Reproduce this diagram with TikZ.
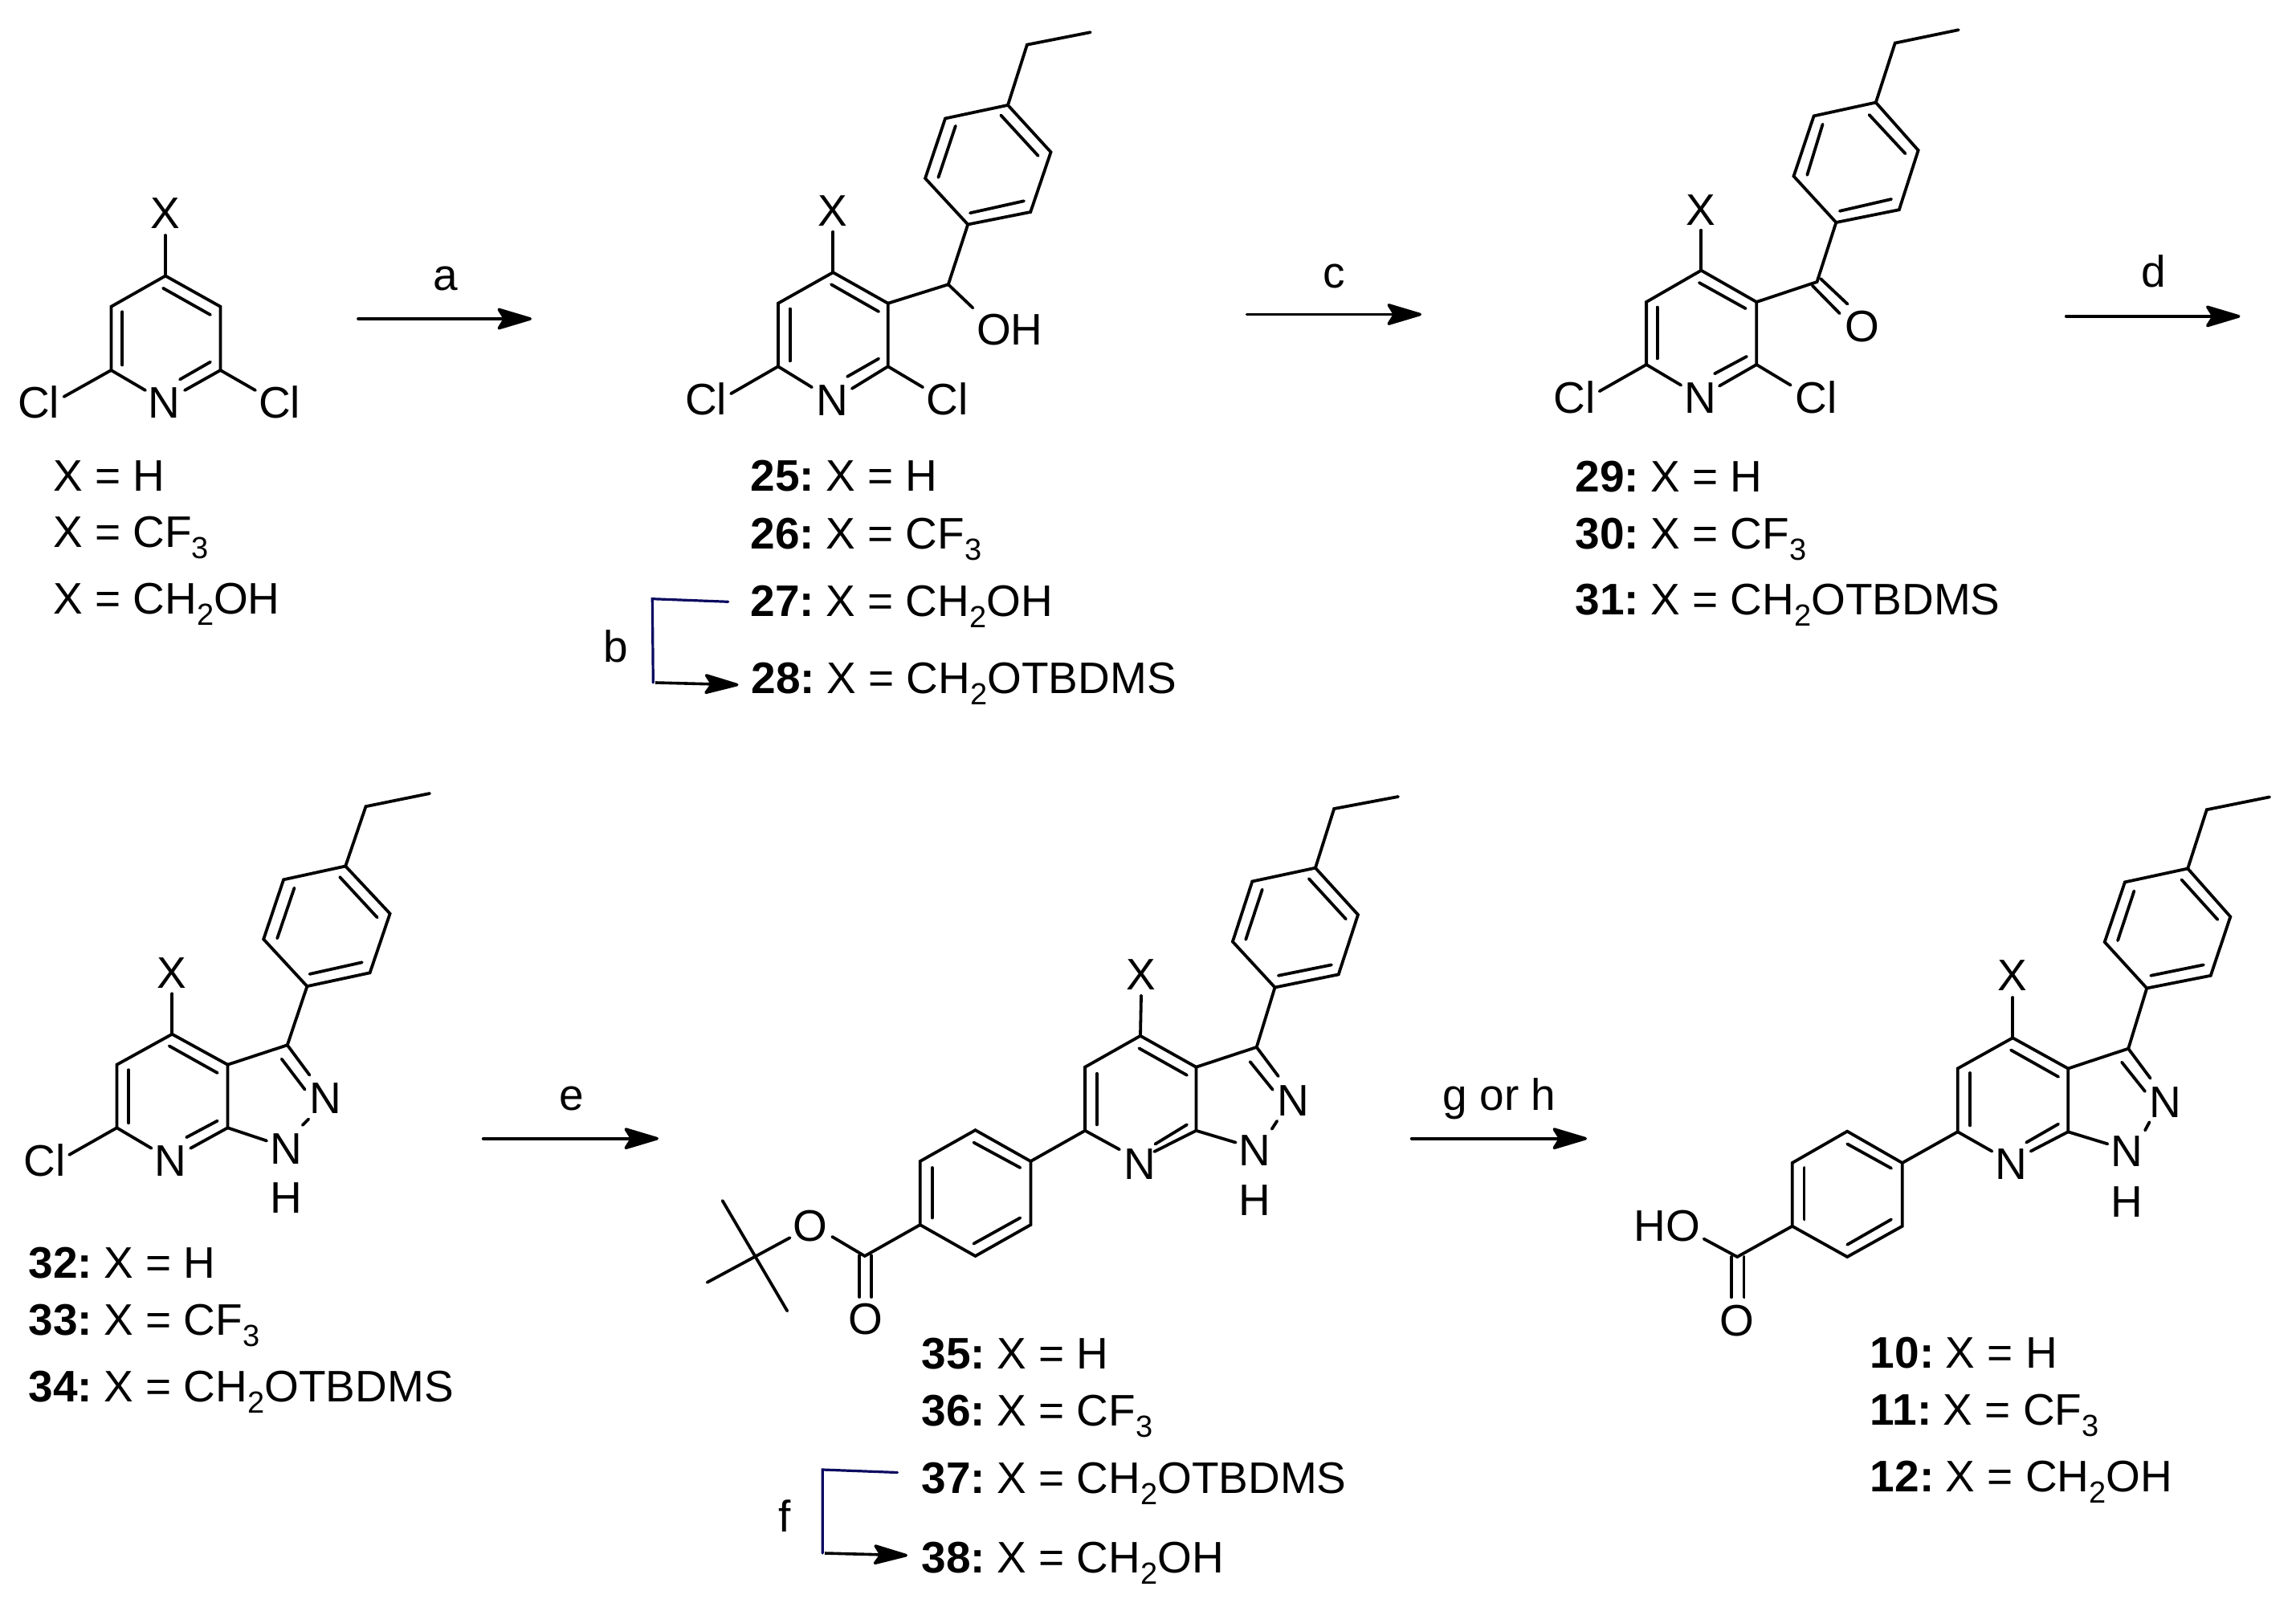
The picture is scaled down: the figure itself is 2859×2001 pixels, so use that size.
\documentclass[tikz,border=0pt]{standalone}
\usepackage{fontspec}
\setmainfont{Liberation Sans}
\usetikzlibrary{arrows.meta}
\definecolor{brk}{HTML}{0A0A60}
\newcommand{\sbs}[1]{\raisebox{-14pt}{\fontsize{38}{38}\selectfont #1}}
\newcommand{\cmpd}[1]{\textbf{#1:}\hspace{-6pt}}
\tikzset{
  bond/.style={line width=3.8pt,line join=miter,line cap=round},
  rxn/.style={line width=3.6pt,line cap=round,-{Stealth[round,length=49pt,width=29pt,inset=9pt]}},
  brack/.style={line width=3.2pt,color=brk,line join=miter,line cap=round},
  brackarrow/.style={line width=3.6pt,-{Stealth[round,length=49pt,width=27pt,inset=9pt]}},
  atom/.style={inner sep=0pt,font=\fontsize{55}{60}\selectfont},
  lab/.style={inner sep=0pt,anchor=base west,font=\fontsize{55}{60}\selectfont},
  cond/.style={inner sep=0pt,anchor=base,font=\fontsize{55}{60}\selectfont},
}
\begin{document}
\begin{tikzpicture}[x=1pt,y=-1pt]
\useasboundingbox (0,0) rectangle (2859,2001);
\fill[white] (0,0) rectangle (2859,2001);

% ---------- starting pyridine
\coordinate (a4) at (206,343.5); \coordinate (a3) at (138.4,381.8); \coordinate (a5) at (274.5,381.8);
\coordinate (a2) at (138.4,461); \coordinate (a6) at (274.5,461);
\node[atom] (aX) at (206,266) {X};
\node[atom] (aN) at (204.5,501.6) {N};
\node[atom] (aCl1) at (48,501) {Cl};
\node[atom] (aCl2) at (348,501) {Cl};
\draw[bond] (206,293) -- (a4);
\draw[bond] (181,486) -- (a2) -- (a3) -- (a4) -- (a5) -- (a6) -- (230,486);
\draw[bond] (79.5,494) -- (a2);
\draw[bond] (a6) -- (318,486);
\draw[bond] (152.2,388.3) -- (152.2,454.5);
\draw[bond] (203,358.8) -- (262,392);
\draw[bond] (262,450.7) -- (224,472.5);
\node[lab] (al1) at (66,611) {X = H};
\node[lab] (al2) at (66,681.4) {X = CF\sbs{3}};
\node[lab] (al3) at (66,764.5) {X = CH\sbs{2}OH};

% arrow a
\coordinate (ra1) at (446,397); \coordinate (ra2) at (662,397);
\draw[rxn] (ra1) -- (ra2);
\node[cond] (ca) at (555,361) {a};

% ---------- 25-28
\coordinate (bE) at (1357.8,40.2); \coordinate (bM) at (1278.9,55.7);
\coordinate (bp1) at (1255,130.9); \coordinate (bp2) at (1308.5,189.4); \coordinate (bp3) at (1283.2,264);
\coordinate (bp4) at (1205.2,279.5); \coordinate (bp5) at (1152.1,222.1); \coordinate (bp6) at (1177,147.5);
\coordinate (bC) at (1180.8,354.2);
\coordinate (b3) at (1105.7,377.7); \coordinate (b4) at (1037.3,339.2); \coordinate (b5) at (968.9,377.7);
\coordinate (b6) at (968.9,456.3); \coordinate (b2) at (1105.7,456.3);
\node[atom] (bX) at (1037.3,262.9) {X};
\node[atom] (bOH) at (1257.3,410.4) {OH};
\node[atom] (bN) at (1036.4,498.2) {N};
\node[atom] (bCl1) at (879,497) {Cl};
\node[atom] (bCl2) at (1179.4,497) {Cl};
\draw[bond] (bE) -- (bM) -- (bp1);
\draw[bond] (bp1) -- (bp2) -- (bp3) -- (bp4) -- (bp5) -- (bp6) -- cycle;
\draw[bond] (1246.3,143.5) -- (1292.7,194);
\draw[bond] (1275,250.3) -- (1208,265.2);
\draw[bond] (1168.4,221) -- (1189.9,156.7);
\draw[bond] (bp4) -- (bC) -- (b3);
\draw[bond] (bC) -- (1211.4,383.4);
\draw[bond] (1037.3,288.7) -- (b4);
\draw[bond] (1011,482.2) -- (b6) -- (b5) -- (b4) -- (b3) -- (b2) -- (1060.8,483.9);
\draw[bond] (910.1,490.2) -- (b6);
\draw[bond] (b2) -- (1149.2,482.2);
\draw[bond] (1035,354.2) -- (1094.2,388);
\draw[bond] (983.8,384.6) -- (983.8,449.4);
\draw[bond] (1094.2,446.6) -- (1055,469);
\node[lab] (bl1) at (934.5,611.3) {\cmpd{25} X = H};
\node[lab] (bl2) at (934.5,683) {\cmpd{26} X = CF\sbs{3}};
\node[lab] (bl3) at (934.5,767.4) {\cmpd{27} X = CH\sbs{2}OH};
\node[lab] (bl4) at (935.5,863.9) {\cmpd{28} X = CH\sbs{2}OTBDMS};
\coordinate (bb1) at (906.7,749.3); \coordinate (bb2) at (812.3,745.7); \coordinate (bb3) at (813.3,850);
\coordinate (bb4) at (816,850); \coordinate (bb5) at (919.5,852.7);
\draw[brack] (bb1) -- (bb2) -- (bb3);
\draw[brackarrow] (bb4) -- (bb5);
\node[cond] (cb) at (767,824) {b};

% arrow c
\coordinate (rc1) at (1552.5,391.5); \coordinate (rc2) at (1770,391.5);
\draw[rxn] (rc1) -- (rc2);
\node[cond] (cc) at (1661.5,358) {c};

% ---------- 29-31
\coordinate (cE) at (2438.8,37.2); \coordinate (cM) at (2359.7,53.6);
\coordinate (cp1) at (2335.8,127.6); \coordinate (cp2) at (2388.6,187.2); \coordinate (cp3) at (2364.8,261.2);
\coordinate (cp4) at (2286.3,277); \coordinate (cp5) at (2233.5,219.4); \coordinate (cp6) at (2258.6,144.4);
\coordinate (cC) at (2262.5,351);
\coordinate (c3) at (2187.2,376); \coordinate (c4) at (2118.3,336.7); \coordinate (c5) at (2050.1,376);
\coordinate (c6) at (2050.1,454); \coordinate (c2) at (2187.2,454);
\node[atom] (cX) at (2118.3,261.2) {X};
\node[atom] (cO) at (2318.5,407) {O};
\node[atom] (cN) at (2117,496) {N};
\node[atom] (cCl1) at (1960.7,495) {Cl};
\node[atom] (cCl2) at (2261.8,495) {Cl};
\draw[bond] (cE) -- (cM) -- (cp1);
\draw[bond] (cp1) -- (cp2) -- (cp3) -- (cp4) -- (cp5) -- (cp6) -- cycle;
\draw[bond] (2327.5,142.9) -- (2372.5,191.3);
\draw[bond] (2355.1,248) -- (2290.8,262.8);
\draw[bond] (2250.3,217.9) -- (2269.6,154.6);
\draw[bond] (cp4) -- (cC) -- (c3);
\draw[bond] (2267,347) -- (2300.5,378.6);
\draw[bond] (2256.7,355.6) -- (2290.8,390.3);
\draw[bond] (2118.3,286.7) -- (c4);
\draw[bond] (2093.2,479.6) -- (c6) -- (c5) -- (c4) -- (c3) -- (c2) -- (2140.9,480.6);
\draw[bond] (1991.6,487.2) -- (c6);
\draw[bond] (c2) -- (2229.7,479.6);
\draw[bond] (2115.8,352) -- (2173.7,384.2);
\draw[bond] (2063.6,382.6) -- (2063.6,446.4);
\draw[bond] (2175,443.9) -- (2135,465.3);
\node[lab] (cl1) at (1961.3,612.2) {\cmpd{29} X = H};
\node[lab] (cl2) at (1961.3,683.7) {\cmpd{30} X = CF\sbs{3}};
\node[lab] (cl3) at (1961.3,765.3) {\cmpd{31} X = CH\sbs{2}OTBDMS};

% arrow d
\coordinate (rd1) at (2572.7,393.9); \coordinate (rd2) at (2789.5,393.9);
\draw[rxn] (rd1) -- (rd2);
\node[cond] (cd) at (2681.4,357) {d};

% ---------- 32-34
\coordinate (dE) at (535,988); \coordinate (dM) at (455.5,1004.2);
\coordinate (dp1) at (430.2,1078.5); \coordinate (dp2) at (485.6,1137.6); \coordinate (dp3) at (460.6,1211.3);
\coordinate (dp4) at (382.4,1228.1); \coordinate (dp5) at (328.2,1169.5); \coordinate (dp6) at (353.1,1095.3);
\coordinate (d3) at (357.8,1301.3); \coordinate (d3a) at (283.5,1325.7); \coordinate (d4) at (214.3,1287.7);
\coordinate (d5) at (145.5,1325.7); \coordinate (d6) at (145.5,1404.3); \coordinate (d7a) at (283.5,1404.3);
\node[atom] (dX) at (214.3,1211.8) {X};
\node[atom] (dN2) at (405.3,1367.4) {N};
\node[atom] (dN1) at (356.7,1430.8) {N};
\node[atom] (dH) at (356.7,1492) {H};
\node[atom] (dN) at (212.7,1446) {N};
\node[atom] (dCl) at (55.4,1444.4) {Cl};
\draw[bond] (dE) -- (dM) -- (dp1);
\draw[bond] (dp1) -- (dp2) -- (dp3) -- (dp4) -- (dp5) -- (dp6) -- cycle;
\draw[bond] (423.1,1092) -- (469.7,1142.4);
\draw[bond] (450.8,1198.3) -- (385.5,1212.9);
\draw[bond] (345.2,1168.5) -- (366.5,1105.6);
\draw[bond] (dp4) -- (d3);
\draw[bond] (214.3,1237.3) -- (d4);
\draw[bond] (188.6,1429.8) -- (d6) -- (d5) -- (d4) -- (d3a) -- (d7a) -- (237.2,1429.8);
\draw[bond] (d3a) -- (d3) -- (385.5,1338.7);
\draw[bond] (350.7,1318.6) -- (379.6,1356.6);
\draw[bond] (d7a) -- (332.1,1420.5);
\draw[bond] (376.8,1401) -- (384.3,1393.4);
\draw[bond] (86.2,1437.9) -- (d6);
\draw[bond] (210.7,1302.4) -- (270.8,1336);
\draw[bond] (160.1,1332.2) -- (160.1,1398.3);
\draw[bond] (270.8,1395.6) -- (232.1,1416.2);
\node[lab] (dl1) at (35.6,1591.3) {\cmpd{32} X = H};
\node[lab] (dl2) at (35.6,1662.9) {\cmpd{33} X = CF\sbs{3}};
\node[lab] (dl3) at (35.6,1745.8) {\cmpd{34} X = CH\sbs{2}OTBDMS};

% arrow e
\coordinate (re1) at (601.7,1417.7); \coordinate (re2) at (820,1417.7);
\draw[rxn] (re1) -- (re2);
\node[cond] (ce) at (711.5,1382) {e};

% ---------- 35-38
\coordinate (eE) at (1741,992); \coordinate (eM) at (1661.2,1007);
\coordinate (ep1) at (1637.9,1080.7); \coordinate (ep2) at (1691,1139); \coordinate (ep3) at (1666.7,1213.4);
\coordinate (ep4) at (1587.5,1229.5); \coordinate (ep5) at (1534.9,1172.5); \coordinate (ep6) at (1559.3,1097.5);
\coordinate (e3) at (1564.7,1303.9); \coordinate (e3a) at (1489.4,1328.7); \coordinate (e4) at (1420,1289.8);
\coordinate (e5) at (1351.1,1328.7); \coordinate (e6) at (1351.1,1407.8); \coordinate (e7a) at (1489.4,1407.8);
\coordinate (eq1) at (1283.4,1446); \coordinate (eq2) at (1214.5,1407.2); \coordinate (eq3) at (1145.7,1446);
\coordinate (eq4) at (1145.7,1525.1); \coordinate (eq5) at (1214.5,1564); \coordinate (eq6) at (1283.4,1525.1);
\coordinate (eC) at (1076.8,1564); \coordinate (eT) at (940.2,1564.7);
\coordinate (eT1) at (899.6,1495); \coordinate (eT2) at (880.6,1596.8); \coordinate (eT3) at (980.3,1632.4);
\node[atom] (eX) at (1421,1213.4) {X};
\node[atom] (eN2) at (1610.8,1371) {N};
\node[atom] (eN1) at (1562,1432.6) {N};
\node[atom] (eH) at (1562,1495) {H};
\node[atom] (eN) at (1419.5,1449.4) {N};
\node[atom] (eO1) at (1009,1526.5) {O};
\node[atom] (eO2) at (1077.4,1642.4) {O};
\draw[bond] (eE) -- (eM) -- (ep1);
\draw[bond] (ep1) -- (ep2) -- (ep3) -- (ep4) -- (ep5) -- (ep6) -- cycle;
\draw[bond] (1629.8,1094.1) -- (1675.9,1144.4);
\draw[bond] (1658,1201.4) -- (1591.8,1214.8);
\draw[bond] (1551.2,1169.9) -- (1571.8,1107.5);
\draw[bond] (ep4) -- (e3);
\draw[bond] (1421,1239.6) -- (e4);
\draw[bond] (1394,1431.3) -- (e6) -- (e5) -- (e4) -- (e3a) -- (e7a) -- (1437.3,1434);
\draw[bond] (e3a) -- (e3) -- (1591.8,1340.1);
\draw[bond] (1556.6,1322) -- (1584.8,1356.9);
\draw[bond] (e7a) -- (1538.7,1422.6);
\draw[bond] (1583.7,1405.8) -- (1590.2,1395.8);
\draw[bond] (1418.4,1305.3) -- (1478,1338.8);
\draw[bond] (1365.8,1336.8) -- (1365.8,1400.4);
\draw[bond] (1478,1400.4) -- (1438.4,1424.6);
\draw[bond] (e6) -- (eq1);
\draw[bond] (eq1) -- (eq2) -- (eq3) -- (eq4) -- (eq5) -- (eq6) -- cycle;
\draw[bond] (1270.4,1454) -- (1212.4,1422.6);
\draw[bond] (1160.9,1454) -- (1160.9,1516.4);
\draw[bond] (1212.4,1548.6) -- (1270.4,1516.4);
\draw[bond] (eq4) -- (eC) -- (1036.2,1539.9);
\draw[bond] (983.6,1541.2) -- (eT);
\draw[bond] (eT1) -- (eT3);
\draw[bond] (eT2) -- (eT);
\draw[bond] (1070.3,1563.3) -- (1070.3,1615);
\draw[bond] (1085,1563.3) -- (1085,1615);
\node[lab] (el1) at (1147.3,1704) {\cmpd{35} X = H};
\node[lab] (el2) at (1147.3,1775.8) {\cmpd{36} X = CF\sbs{3}};
\node[lab] (el3) at (1147.3,1859.6) {\cmpd{37} X = CH\sbs{2}OTBDMS};
\node[lab] (el4) at (1147.3,1958.8) {\cmpd{38} X = CH\sbs{2}OH};
\coordinate (eb1) at (1117.5,1833.5); \coordinate (eb2) at (1024.3,1830); \coordinate (eb3) at (1024.3,1934);
\coordinate (eb4) at (1027,1934); \coordinate (eb5) at (1130,1936.7);
\draw[brack] (eb1) -- (eb2) -- (eb3);
\draw[brackarrow] (eb4) -- (eb5);
\node[cond] (cf) at (977.6,1907) {f};

% arrow g or h
\coordinate (rg1) at (1757.7,1417.7); \coordinate (rg2) at (1976,1417.7);
\draw[rxn] (rg1) -- (rg2);
\node[cond] (cg) at (1867,1382) {g or h};

% ---------- 10-12
\coordinate (fE) at (2826.1,992.4); \coordinate (fM) at (2747.8,1008.2);
\coordinate (fp1) at (2724.2,1081.5); \coordinate (fp2) at (2777.3,1141.5); \coordinate (fp3) at (2752.7,1214.8);
\coordinate (fp4) at (2673.2,1230.5); \coordinate (fp5) at (2620.7,1173); \coordinate (fp6) at (2645.9,1098.4);
\coordinate (f3) at (2650.2,1305.7); \coordinate (f3a) at (2575.2,1330.5); \coordinate (f4) at (2506.2,1292.3);
\coordinate (f5) at (2437.7,1330.5); \coordinate (f6) at (2437.7,1409.3); \coordinate (f7a) at (2575.2,1409.3);
\coordinate (fq1) at (2368.7,1448); \coordinate (fq2) at (2300.2,1408.7); \coordinate (fq3) at (2231.7,1448);
\coordinate (fq4) at (2231.7,1526.8); \coordinate (fq5) at (2300.2,1565); \coordinate (fq6) at (2368.7,1526.8);
\coordinate (fC) at (2163.2,1565);
\node[atom] (fX) at (2506.2,1214.8) {X};
\node[atom] (fN2) at (2696.8,1372.3) {N};
\node[atom] (fN1) at (2648,1433.5) {N};
\node[atom] (fH) at (2648,1496.5) {H};
\node[atom] (fN) at (2504.5,1449.9) {N};
\node[atom] (fHO) at (2075.6,1526.8) {HO};
\node[atom] (fO) at (2163.2,1645) {O};
\draw[bond] (fE) -- (fM) -- (fp1);
\draw[bond] (fp1) -- (fp2) -- (fp3) -- (fp4) -- (fp5) -- (fp6) -- cycle;
\draw[bond] (2716.5,1095.4) -- (2761.4,1145.1);
\draw[bond] (2743.9,1201.4) -- (2678.2,1214.8);
\draw[bond] (2637,1171.2) -- (2657.4,1109.4);
\draw[bond] (fp4) -- (f3);
\draw[bond] (2506.2,1242) -- (f4);
\draw[bond] (2480.4,1433.5) -- (f6) -- (f5) -- (f4) -- (f3a) -- (f7a) -- (2528.6,1433.5);
\draw[bond] (f3a) -- (f3) -- (2677.6,1342.6);
\draw[bond] (2642,1322.6) -- (2671,1359);
\draw[bond] (f7a) -- (2624.5,1424.4);
\draw[bond] (2671,1407.5) -- (2676.5,1397.2);
\draw[bond] (2504,1307.5) -- (2563.1,1340.8);
\draw[bond] (2453,1336) -- (2453,1401.4);
\draw[bond] (2563.1,1399.6) -- (2523.1,1422.6);
\draw[bond] (f6) -- (fq1);
\draw[bond] (fq1) -- (fq2) -- (fq3) -- (fq4) -- (fq5) -- (fq6) -- cycle;
\draw[bond] (2355,1454.7) -- (2300.2,1424.4);
\draw[bond] (2246.5,1454) -- (2246.5,1518.4);
\draw[bond] (2300.2,1549.8) -- (2355,1518.4);
\draw[bond] (fq4) -- (fC) -- (2121.6,1542.6);
\draw[bond] (2156,1565) -- (2156,1615.3);
\draw[bond] (2171.5,1565) -- (2171.5,1615.3);
\node[lab] (fl1) at (2328.7,1703) {\cmpd{10} X = H};
\node[lab] (fl2) at (2328.7,1774) {\cmpd{11} X = CF\sbs{3}};
\node[lab] (fl3) at (2328.7,1857.6) {\cmpd{12} X = CH\sbs{2}OH};
\end{tikzpicture}
\end{document}
